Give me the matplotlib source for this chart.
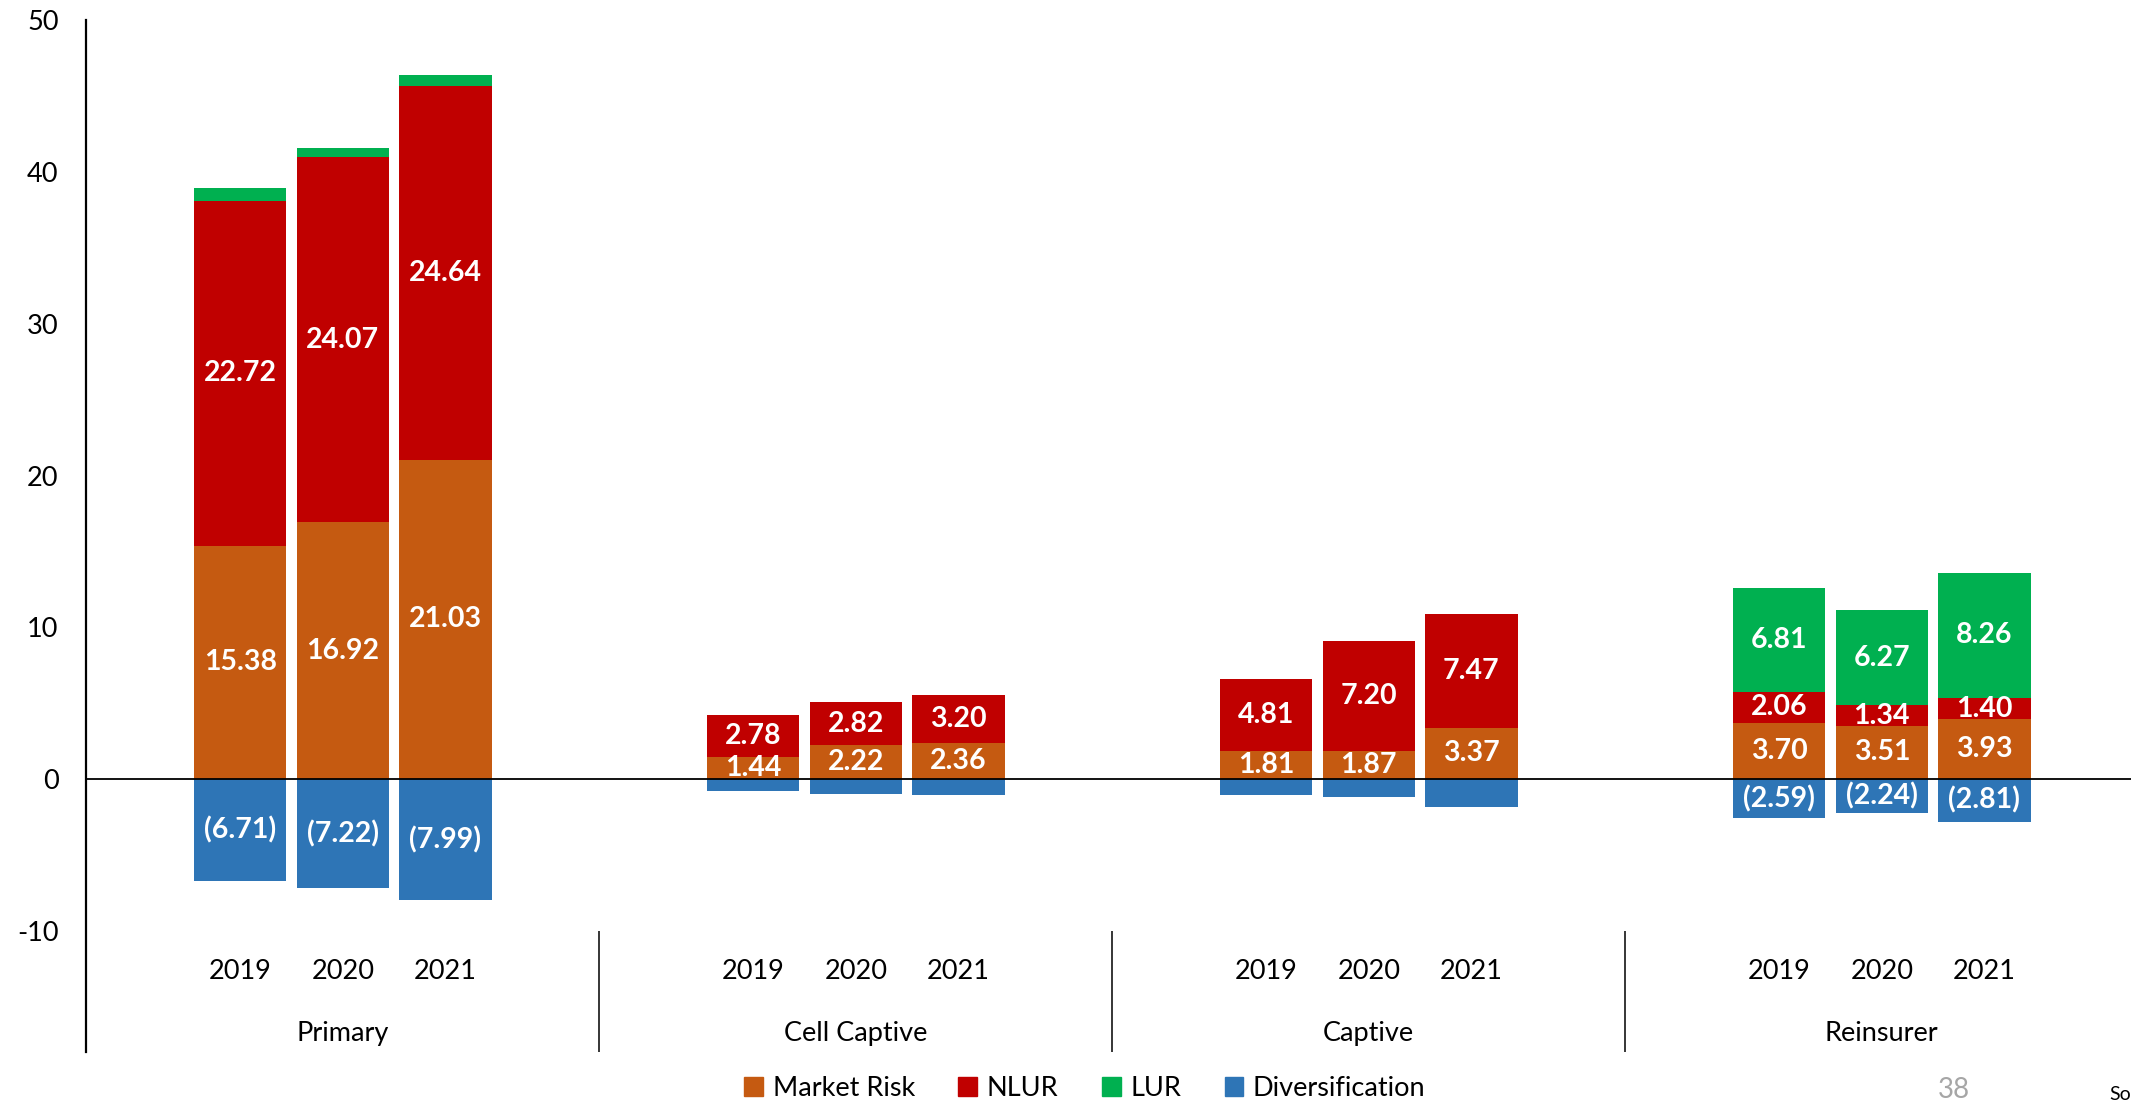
import numpy as np
import matplotlib.pyplot as plt
from matplotlib.patches import Patch

plt.rcParams['font.family'] = ['Lato', 'DejaVu Sans']
plt.rcParams['axes.unicode_minus'] = False

# categorías del eje (dos niveles)
groups = ['Primary', 'Cell Captive', 'Captive', 'Reinsurer']
years = ['2019', '2020', '2021']

# componentes del requerimiento de capital por tipo de asegurador y año
market = [15.38, 16.92, 21.03, 1.44, 2.22, 2.36, 1.81, 1.87, 3.37, 3.70, 3.51, 3.93]
nlur = [22.72, 24.07, 24.64, 2.78, 2.82, 3.20, 4.81, 7.20, 7.47, 2.06, 1.34, 1.40]
lur = [0.85, 0.60, 0.70, 0, 0, 0, 0, 0, 0, 6.81, 6.27, 8.26]
divers = [-6.71, -7.22, -7.99, -0.77, -0.99, -1.08, -1.03, -1.16, -1.87, -2.59, -2.24, -2.81]

# qué segmentos llevan etiqueta
show_lur = [False] * 9 + [True] * 3
show_div = [True] * 3 + [False] * 6 + [True] * 3

colors = {'Market Risk': '#C55A11', 'NLUR': '#C00000', 'LUR': '#00B050', 'Diversification': '#2E75B6'}

# cada grupo ocupa 5 huecos, las barras van en los 3 centrales
x = np.array([g * 5 + 1.5 + j for g in range(len(groups)) for j in range(len(years))])
width = 0.9

fig = plt.figure(figsize=(21.31, 11.02), dpi=100)
ax = fig.add_axes([86.3 / 2131, 1 - 1052 / 1102, 2052 / 2131, (1052 - 20.4) / 1102])

market = np.array(market)
nlur = np.array(nlur)
lur = np.array(lur)
divers = np.array(divers)

ax.bar(x, market, width, color=colors['Market Risk'])
ax.bar(x, nlur, width, bottom=market, color=colors['NLUR'])
ax.bar(x, lur, width, bottom=market + nlur, color=colors['LUR'])
ax.bar(x, divers, width, color=colors['Diversification'])

lab = dict(color='white', fontsize=20.5, fontweight='bold', ha='center', va='center')
for i in range(len(x)):
    ax.text(x[i], market[i] / 2, f'{market[i]:.2f}', **lab)
    ax.text(x[i], market[i] + nlur[i] / 2, f'{nlur[i]:.2f}', **lab)
    if show_lur[i]:
        ax.text(x[i], market[i] + nlur[i] + lur[i] / 2, f'{lur[i]:.2f}', **lab)
    if show_div[i]:
        ax.text(x[i], divers[i] / 2, f'({-divers[i]:.2f})', **lab)

ax.set_xlim(0, 20)
ax.set_ylim(-18, 50)
ax.set_yticks(np.arange(-10, 51, 10))
ax.set_xticks([])
ax.tick_params(axis='y', length=0, labelsize=19.5, pad=20)

for s in ['top', 'right', 'bottom']:
    ax.spines[s].set_visible(False)
ax.spines['left'].set_linewidth(1.6)
ax.axhline(0, color='black', lw=1.3)

# etiquetas de categoría en dos niveles
for i in range(len(x)):
    ax.text(x[i], -12.7, years[i % 3], fontsize=19.5, ha='center', va='center')
for g, name in enumerate(groups):
    ax.text(g * 5 + 2.5, -16.75, name, fontsize=19.5, ha='center', va='center')
ax.vlines([5, 10, 15], -18, -10.05, color='black', lw=1.1)

handles = [Patch(color=c, label=k) for k, c in colors.items()]
fig.legend(handles=handles, loc='center', bbox_to_anchor=(1085 / 2131, 1 - 1088 / 1102),
           ncol=4, frameon=False, fontsize=19.5, handlelength=0.7, handleheight=0.7,
           handletextpad=0.35, columnspacing=1.6)

fig.text(1954 / 2131, 1 - 1098 / 1102, '38', color='#A6A6A6', fontsize=20, ha='center', va='baseline')
fig.text(2109 / 2131, 1 - 1100 / 1102, 'Sou', color='black', fontsize=14, ha='left', va='baseline')

fig.savefig('out.png', dpi=100)
